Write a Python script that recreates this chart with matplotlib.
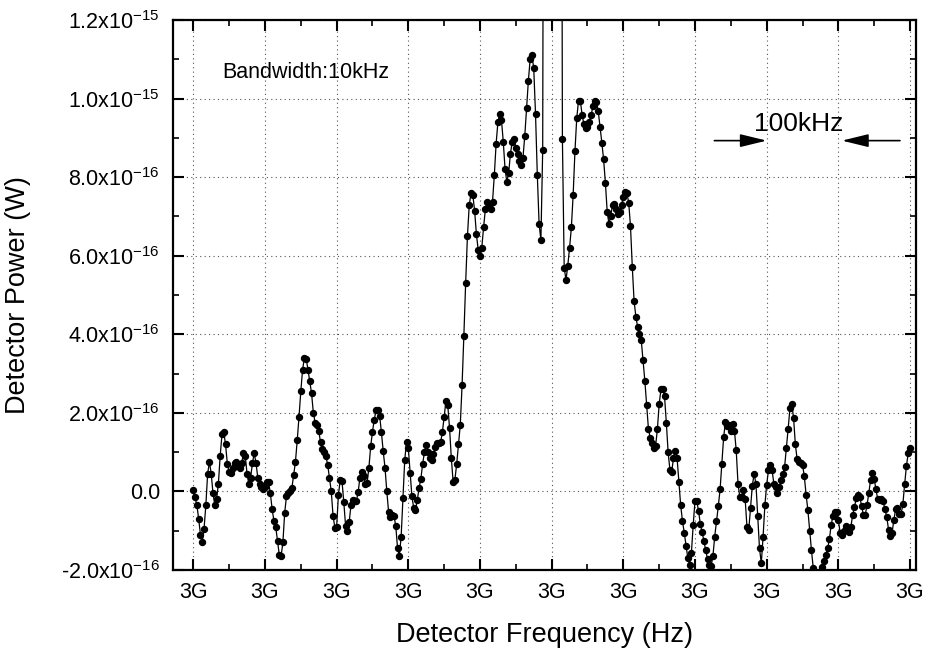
import numpy as np
import matplotlib
matplotlib.use("Agg")
from matplotlib import pyplot as plt
from matplotlib.ticker import MultipleLocator, FuncFormatter

plt.rcParams['font.family'] = ['Liberation Sans', 'DejaVu Sans']
plt.rcParams['mathtext.fontset'] = 'custom'
plt.rcParams['mathtext.rm'] = 'Liberation Sans'
plt.rcParams['mathtext.it'] = 'Liberation Sans:italic'

# sweep: 3 GHz + 0..1000 kHz, 2.5 kHz steps
f_start = 3.0e9
span_khz = 1000.0
n_points = 401

# detector power in units of 1e-16 W (carrier off scale in the middle)
power = [
    0.04, -0.15, -0.35, -0.70, -1.10, -1.28, -0.95, -0.35, 0.45, 0.75,
    0.45, -0.05, -0.35, -0.20, 0.20, 0.90, 1.45, 1.50, 1.20, 0.70,
    0.50, 0.48, 0.60, 0.72, 0.74, 0.64, 0.60, 0.72, 0.98, 0.90,
    0.45, 0.18, 0.35, 0.72, 0.97, 0.72, 0.35, 0.18, 0.10, 0.06,
    0.11,
    0.25, 0.25, -0.05, -0.45, -0.75, -0.90, -1.25, -1.62, -1.65, -1.30,
    -0.55, -0.12, -0.03, 0.00, 0.08, 0.42, 0.75, 1.30, 1.90, 2.55,
    3.10, 3.40, 3.38, 3.10, 2.80, 2.50, 2.00, 1.75, 1.70, 1.55,
    1.25, 1.08, 1.00, 0.90, 0.68, 0.35, 0.00, -0.62, -0.92, -0.90,
    -0.08, 0.28, 0.26, -0.28, -0.88, -1.02, -0.78, -0.35, -0.22, -0.25,
    -0.25, -0.02, 0.35, 0.50, 0.38, 0.20, 0.22, 0.60, 1.15, 1.52,
    1.83, 2.06, 2.07, 1.92, 1.50, 1.02, 0.60, 0.00, -0.52, -0.66,
    -0.60, -0.62, -0.88, -1.45, -1.64, -1.15, -0.18, 0.80, 1.26, 1.10,
    0.48, -0.12, -0.42, -0.48, -0.22, 0.08, 0.32, 0.70, 1.00, 1.17,
    1.00, 0.84, 0.80, 0.94, 1.12, 1.22, 1.22, 1.25, 1.50, 1.90,
    2.30, 2.20, 1.62, 0.85, 0.25, 0.30, 0.70, 1.20, 1.69, 2.70,
    3.96, 5.30, 6.50, 7.28, 7.60, 7.55, 7.15, 6.55, 6.15, 6.00,
    6.20, 6.72, 7.18, 7.36, 7.30, 7.20, 7.38, 8.05, 8.85, 9.40,
    9.60, 9.45, 8.90, 8.20, 7.88, 8.10, 8.60, 8.90, 8.96, 8.75,
    8.60, 8.42, 8.30, 8.50, 9.05, 9.75, 10.45, 11.00, 11.10, 10.77,
    9.60, 8.05, 6.80, 6.40, 8.70, 30.0, 120.0, 400.0, 900.0, 1300.0,
    1300.0, 900.0, 400.0, 120.0, 30.0, 8.97, 5.70, 5.38, 5.75, 6.20,
    6.72, 7.55, 8.66, 9.50, 9.95, 9.95, 9.58, 9.35, 9.26, 9.28,
    9.40, 9.57, 9.80, 9.93, 9.92, 9.68, 9.28, 8.88, 8.45, 7.85,
    7.12, 6.80, 7.02, 7.30, 7.32, 7.18, 7.06, 7.12, 7.30, 7.50,
    7.63, 7.60, 7.35, 6.75, 5.72, 4.85, 4.45, 4.18, 4.00, 3.85,
    3.35, 2.82, 2.20, 1.60, 1.36, 1.22, 1.10, 1.15, 1.58, 2.22,
    2.60, 2.60, 2.42, 1.75, 1.00, 0.55, 0.50, 0.85, 1.03, 0.85,
    0.25, -0.35, -0.75, -1.05, -1.38, -1.70, -1.87, -1.56, -0.85, -0.24,
    -0.25, -0.50, -0.84, -1.04, -1.27, -1.50, -1.73, -1.88, -1.90, -1.65,
    -1.15, -0.76, -0.38, 0.05, 0.70, 1.39, 1.76, 1.66, 1.70, 1.53,
    1.72, 1.55, 1.05, 0.20, -0.14, -0.15, 0.03, -0.20, -0.90, -0.98,
    -0.43, 0.15, 0.45, 0.20, -0.62, -1.45, -1.83, -1.15, -0.35, 0.17,
    0.54, 0.66, 0.55, 0.20, 0.10, -0.05, 0.10, 0.30, 0.44, 0.62,
    1.10, 1.60, 2.12, 2.22, 1.88, 1.20, 0.82, 0.76, 0.73, 0.68,
    0.39, -0.08, -0.48, -1.00, -1.50, -1.95, -2.25, -2.40, -2.35, -2.10,
    -1.92, -1.78, -1.62, -1.45, -1.22, -0.85, -0.62, -0.52, -0.52, -0.73,
    -1.05, -1.11, -1.00, -0.87, -0.92, -1.03, -0.90, -0.60, -0.40, -0.18,
    -0.10, -0.15, -0.38, -0.60, -0.60, -0.35, -0.05, 0.30, 0.47, 0.32,
    0.05, -0.20, -0.22, -0.20, -0.25, -0.46, -0.64, -0.97, -1.13, -1.05,
    -0.72, -0.45, -0.42, -0.57, -0.58, -0.33, 0.18, 0.65, 0.97, 1.10,
]

y_ticks = [-2e-16, 0.0, 2e-16, 4e-16, 6e-16, 8e-16, 1.0e-15, 1.2e-15]
y_labels = [r'-2.0x10$^{-16}$', '0.0', r'2.0x10$^{-16}$', r'4.0x10$^{-16}$',
            r'6.0x10$^{-16}$', r'8.0x10$^{-16}$', r'1.0x10$^{-15}$', r'1.2x10$^{-15}$']

freq = f_start + np.linspace(0, span_khz, n_points) * 1e3
pw = np.array(power) * 1e-16

fig = plt.figure(figsize=(9.26, 6.48), dpi=100)
ax = fig.add_axes([0.1863, 0.1204, 0.8034, 0.8487])

ax.plot(freq, pw, '-', color='black', lw=0.9, marker='o', ms=4.3,
        mfc='black', mec='black')

ax.set_xlim(f_start - 29e3, f_start + 1009e3)
ax.set_ylim(-2e-16, 1.2e-15)

ax.xaxis.set_major_locator(MultipleLocator(100e3))
ax.xaxis.set_minor_locator(MultipleLocator(50e3))
ax.xaxis.set_major_formatter(FuncFormatter(lambda v, p: '%dG' % round(v / 1e9)))
ax.set_yticks(y_ticks, labels=y_labels)
ax.yaxis.set_minor_locator(MultipleLocator(1e-16))

ax.tick_params(which='both', direction='in', top=True, right=True, labelsize=15.5)
ax.tick_params(which='major', length=8, width=1.5, pad=9)
ax.tick_params(which='minor', length=4, width=1.2)
for s in ax.spines.values():
    s.set_linewidth(1.6)

ax.grid(True, which='major', ls=(0, (1, 3)), color='#555555', lw=0.8)
ax.set_axisbelow(True)

ax.set_xlabel('Detector Frequency (Hz)', fontsize=19.5, va='center')
ax.xaxis.set_label_coords(0.5, -0.118)
ax.set_ylabel('Detector Power (W)', fontsize=19.5, va='center')
ax.yaxis.set_label_coords(-0.208, 0.5)

ax.text(f_start + 40e3, 1.067e-15, 'Bandwidth:10kHz', fontsize=15.5, va='center')
ax.text(f_start + 782e3, 9.35e-16, '100kHz', fontsize=19, va='center')
arrow = dict(arrowstyle='-|>,head_length=0.9,head_width=0.22', color='black',
             lw=1.2, mutation_scale=18, shrinkA=0, shrinkB=0)
ax.annotate('', xy=(f_start + 800e3, 8.93e-16), xytext=(f_start + 727e3, 8.93e-16),
            arrowprops=arrow)
ax.annotate('', xy=(f_start + 905e3, 8.93e-16), xytext=(f_start + 986e3, 8.93e-16),
            arrowprops=arrow)

fig.savefig('out.png', dpi=100)
